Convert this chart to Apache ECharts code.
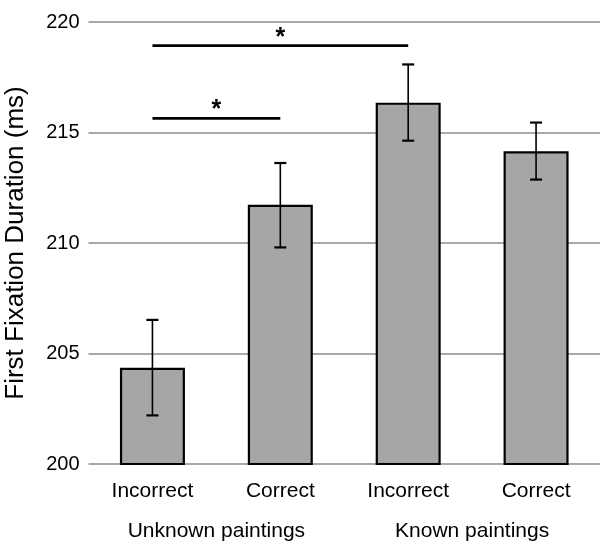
<!DOCTYPE html>
<html><head><meta charset="utf-8">
<script src="https://cdn.jsdelivr.net/npm/echarts@6/dist/echarts.min.js"></script>
<style>html,body{margin:0;padding:0;background:#fff}#c{width:600px;height:546px}</style>
</head><body><div id="c"></div>
<script>
const categories = ['Incorrect', 'Correct', 'Incorrect', 'Correct'];
const groups = ['Unknown paintings', 'Known paintings'];
const means = [204.35, 211.73, 216.35, 214.15];
const errLow = [202.2, 209.8, 214.63, 212.87];
const errHigh = [206.52, 213.62, 218.08, 215.45];
const yTicks = { min: 200, max: 220, interval: 5 };
// significance brackets: [fromCategory, toCategory, y, label]
const sigLines = [[0, 2, 218.93, '*'], [0, 1, 215.64, '*']];

const font = 'Liberation Sans, Arial, sans-serif';
const chart = echarts.init(document.getElementById('c'));
chart.setOption({
  animation: false,
  grid: { left: 88.5, right: 0, top: 22, bottom: 82, containLabel: false, outerBoundsMode: 'none' },
  xAxis: [{
    type: 'category', data: categories, position: 'bottom',
    axisLine: { show: false }, axisTick: { show: false },
    axisLabel: { color: '#000', fontSize: 21, fontFamily: font, margin: 17 }
  }, {
    type: 'category', data: groups, position: 'bottom', offset: 40,
    axisLine: { show: false }, axisTick: { show: false },
    axisLabel: { color: '#000', fontSize: 21, fontFamily: font, margin: 17 }
  }],
  yAxis: {
    type: 'value', min: yTicks.min, max: yTicks.max, interval: yTicks.interval,
    name: 'First Fixation Duration (ms)', nameLocation: 'middle', nameGap: 60,
    nameTextStyle: { color: '#000', fontSize: 26, fontFamily: font },
    axisLine: { show: false }, axisTick: { show: false },
    axisLabel: { color: '#000', fontSize: 20, fontFamily: font, margin: 9 },
    splitLine: { lineStyle: { color: '#8c8c8c', width: 1.7 } }
  },
  series: [{
    type: 'bar', data: means, barWidth: 65, xAxisIndex: 0,
    itemStyle: { color: '#a6a6a6', borderColor: '#000', borderWidth: 2.2 }
  }, {
    type: 'custom', xAxisIndex: 0,
    data: means.map((m, i) => [i, errLow[i], errHigh[i]]),
    renderItem: function (params, api) {
      const lo = api.coord([api.value(0), api.value(1)]);
      const hi = api.coord([api.value(0), api.value(2)]);
      const w = 6;
      const st = { stroke: '#000', lineWidth: 1.6 };
      const cap = { stroke: '#000', lineWidth: 2.2 };
      return { type: 'group', children: [
        { type: 'line', shape: { x1: lo[0], y1: lo[1], x2: hi[0], y2: hi[1] }, style: st },
        { type: 'line', shape: { x1: lo[0] - w, y1: lo[1], x2: lo[0] + w, y2: lo[1] }, style: cap },
        { type: 'line', shape: { x1: hi[0] - w, y1: hi[1], x2: hi[0] + w, y2: hi[1] }, style: cap }
      ]};
    },
    z: 5
  }, {
    type: 'custom', xAxisIndex: 0,
    data: sigLines,
    renderItem: function (params, api) {
      const a = api.coord([api.value(0), api.value(2)]);
      const b = api.coord([api.value(1), api.value(2)]);
      return { type: 'group', children: [
        { type: 'line', shape: { x1: a[0], y1: a[1], x2: b[0], y2: b[1] }, style: { stroke: '#000', lineWidth: 2.8 } },
        { type: 'text', x: (a[0] + b[0]) / 2, y: a[1] - 8,
          style: { text: sigLines[params.dataIndex][3], fill: '#000', fontSize: 25, fontWeight: 'bold', fontFamily: font, align: 'center', verticalAlign: 'middle' } }
      ]};
    },
    z: 6
  }]
});
</script></body></html>
